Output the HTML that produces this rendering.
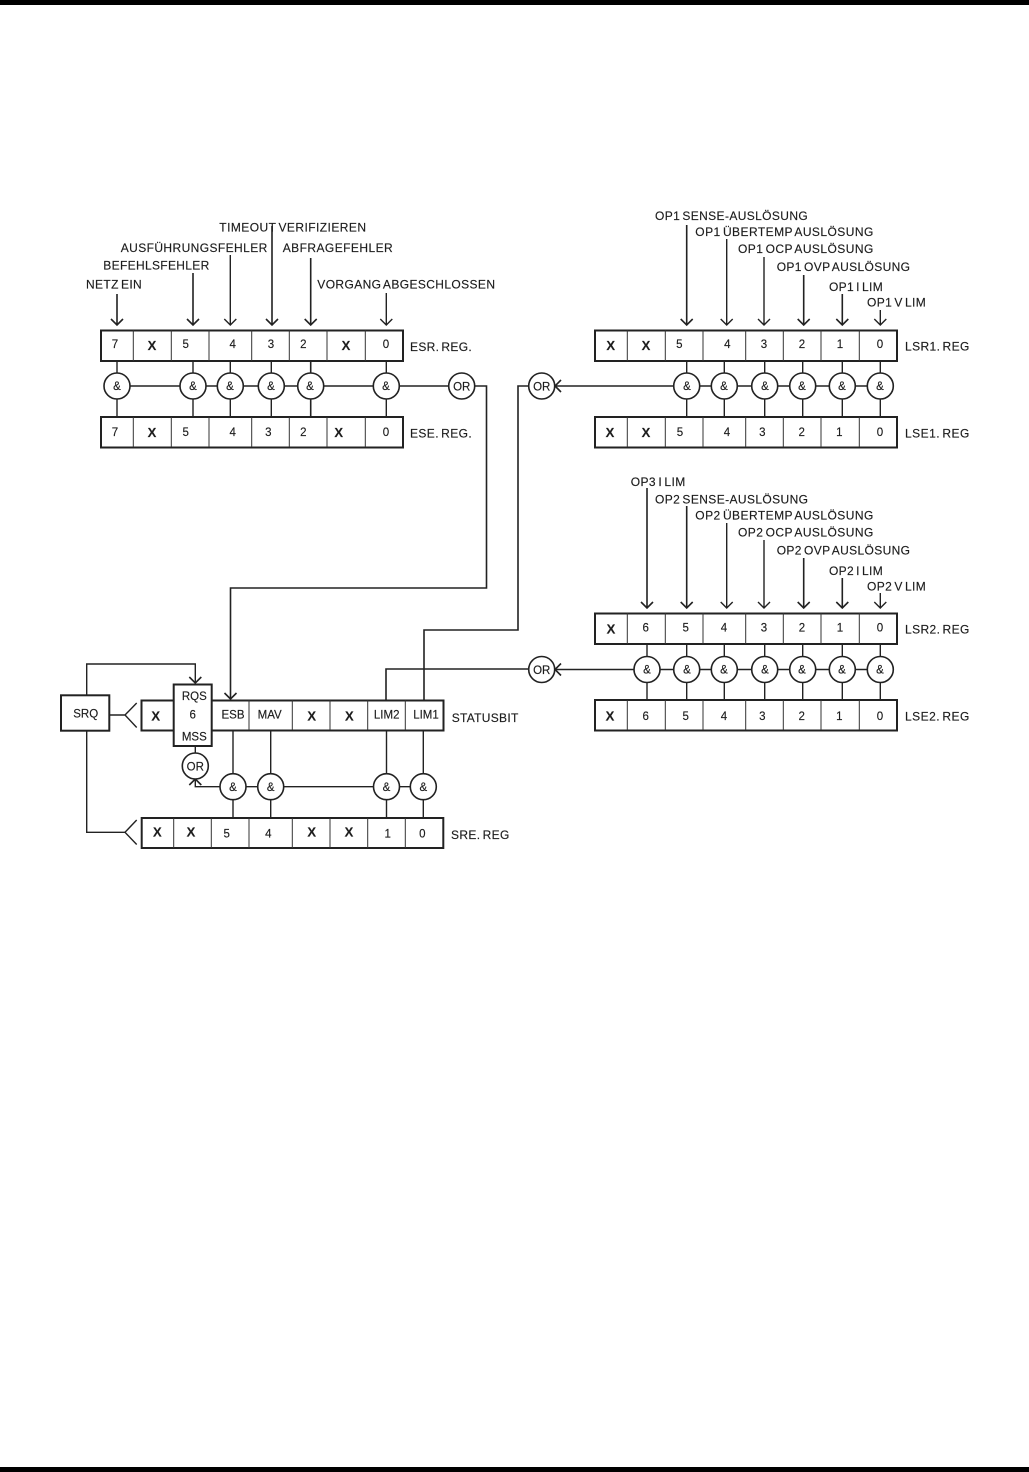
<!DOCTYPE html>
<html><head><meta charset="utf-8"><style>
html,body{margin:0;padding:0;background:#fff}
svg{display:block}
text{font-family:"Liberation Sans",sans-serif;font-size:12px;fill:#1c1c1c;stroke:#1c1c1c;stroke-width:.15;word-spacing:-1.5px}
.c{text-anchor:middle;font-size:11.5px}
.a{text-anchor:middle;font-size:11.5px}
.x{text-anchor:middle;font-size:13px;font-weight:bold}
.l{fill:none;stroke:#222;stroke-width:1.4}
.h{fill:none;stroke:#222;stroke-width:1.6}
.b{fill:#fff;stroke:#222;stroke-width:2}
.d{fill:none;stroke:#333;stroke-width:1}
.o{fill:#fff;stroke:#222;stroke-width:1.6}
</style></head><body>
<svg width="1029" height="1472" viewBox="0 0 1029 1472" xmlns="http://www.w3.org/2000/svg">
<rect x="0" y="0" width="1029" height="5" fill="#000"/>
<rect x="0" y="1467" width="1029" height="5" fill="#000"/>

<!-- connector lines -->
<path class="l" d="M117 361V417M193 361V417M230.3 361V417M271.3 361V417M386.3 361V417"/>
<path class="h" d="M310.7 361V417"/>
<path class="l" d="M117 386H461"/>
<path class="h" d="M474 386H486.5V588H230.5V699"/>
<path class="l" d="M686.7 361V417M724.3 361V417M764.7 361V417M802.7 361V417M842.3 361V417M880.3 361V417M555 386H880"/>
<path class="h" d="M528 386H518V630H424V700M528 669H386V700"/>
<path class="l" d="M647 644V700M686.7 644V700M724.3 644V700M764.7 644V700M802.7 644V700M842.3 644V700M880.3 644V700M555 669.5H880"/>
<path class="l" d="M233 730V818M270.7 730V818M386.5 730V818M423.3 730V818M423 786.7H195.3V779"/>
<path class="l" d="M195.3 746V754"/>
<path class="l" d="M86.7 695V664H195.3V683"/>
<path class="l" d="M86.7 730V832.3H125"/>
<path class="l" d="M109 715H125M136.7 703L125 715L136.7 727.5M136.7 820L125 832.3L136.7 844.5"/>

<!-- input arrows -->
<path class="h" d="M117 294V325M111 319L117 325L123 319"/>
<path class="h" d="M193 273V325M187 319L193 325L199 319"/>
<path class="l" d="M230.3 255V325M224.3 319L230.3 325L236.3 319"/>
<path class="h" d="M272 226V325M266 319L272 325L278 319"/>
<path class="h" d="M310.7 258V325M304.7 319L310.7 325L316.7 319"/>
<path class="l" d="M386.3 293V325M380.3 319L386.3 325L392.3 319"/>
<path class="h" d="M686.7 225V325M680.7 319L686.7 325L692.7 319"/>
<path class="l" d="M726.7 239V325M720.7 319L726.7 325L732.7 319"/>
<path class="l" d="M764 257V325M758 319L764 325L770 319"/>
<path class="h" d="M803.7 275V325M797.7 319L803.7 325L809.7 319"/>
<path class="h" d="M842.3 294V325M836.3 319L842.3 325L848.3 319"/>
<path class="l" d="M880.3 310V325M874.3 319L880.3 325L886.3 319"/>
<path class="h" d="M647 488V608M641 602L647 608L653 602"/>
<path class="h" d="M686.7 506V608M680.7 602L686.7 608L692.7 602"/>
<path class="l" d="M726.7 523V608M720.7 602L726.7 608L732.7 602"/>
<path class="l" d="M764 540V608M758 602L764 608L770 602"/>
<path class="h" d="M803.7 558V608M797.7 602L803.7 608L809.7 602"/>
<path class="h" d="M842.3 578V608M836.3 602L842.3 608L848.3 602"/>
<path class="l" d="M880.3 593V608M874.3 602L880.3 608L886.3 602"/>
<path class="h" d="M224.5 693L230.5 699L236.5 693"/>
<path class="h" d="M189.3 677L195.3 683L201.3 677"/>
<path class="h" d="M561 380L555 386L561 392"/>
<path class="h" d="M561 663.5L555 669.5L561 675.5"/>
<path class="h" d="M189.3 785L195.3 779L201.3 785"/>

<!-- registers -->
<rect class="b" x="101" y="330.5" width="302" height="30.5"/>
<path class="d" d="M133.3 330V361M171.3 330V361M209 330V361M251.7 330V361M289.3 330V361M327 330V361M365.3 330V361"/>
<rect class="b" x="101" y="417" width="302" height="30.5"/>
<path class="d" d="M133.3 417V447M171.3 417V447M209 417V447M251.7 417V447M289.3 417V447M327 417V447M365.3 417V447"/>
<rect class="b" x="595" y="330.5" width="302" height="30.5"/>
<path class="d" d="M627.3 330V361M665.3 330V361M703 330V361M745.7 330V361M783.3 330V361M821 330V361M859.3 330V361"/>
<rect class="b" x="595" y="417" width="302" height="30.5"/>
<path class="d" d="M627.3 417V447M665.3 417V447M703 417V447M745.7 417V447M783.3 417V447M821 417V447M859.3 417V447"/>
<rect class="b" x="595" y="613.5" width="302" height="30.5"/>
<path class="d" d="M627.3 613V644M665.3 613V644M703 613V644M745.7 613V644M783.3 613V644M821 613V644M859.3 613V644"/>
<rect class="b" x="595" y="700" width="302" height="30.5"/>
<path class="d" d="M627.3 700V730M665.3 700V730M703 700V730M745.7 700V730M783.3 700V730M821 700V730M859.3 700V730"/>
<rect class="b" x="141.5" y="700.5" width="302" height="30"/>
<path class="d" d="M249 700V730M292.3 700V730M330 700V730M367.7 700V730M405.3 700V730"/>
<rect class="b" x="173.7" y="684.5" width="38" height="61.5"/>
<rect class="b" x="141.7" y="818" width="301.6" height="30"/>
<path class="d" d="M173.7 818V848M211.3 818V848M249 818V848M292.3 818V848M330 818V848M367.7 818V848M405.3 818V848"/>
<rect class="b" x="61" y="695.3" width="48.3" height="35.4"/>

<!-- gates -->
<g>
<circle cx="117" cy="386" r="13" class="o"/><circle cx="193" cy="386" r="13" class="o"/><circle cx="230.3" cy="386" r="13" class="o"/><circle cx="271.3" cy="386" r="13" class="o"/><circle cx="310.7" cy="386" r="13" class="o"/><circle cx="386.3" cy="386" r="13" class="o"/><circle cx="461.7" cy="386" r="13" class="o"/>
<circle cx="686.7" cy="386" r="13" class="o"/><circle cx="724.3" cy="386" r="13" class="o"/><circle cx="764.7" cy="386" r="13" class="o"/><circle cx="802.7" cy="386" r="13" class="o"/><circle cx="842.3" cy="386" r="13" class="o"/><circle cx="880.3" cy="386" r="13" class="o"/><circle cx="541.7" cy="386" r="13" class="o"/>
<circle cx="647" cy="669.5" r="13" class="o"/><circle cx="686.7" cy="669.5" r="13" class="o"/><circle cx="724.3" cy="669.5" r="13" class="o"/><circle cx="764.7" cy="669.5" r="13" class="o"/><circle cx="802.7" cy="669.5" r="13" class="o"/><circle cx="842.3" cy="669.5" r="13" class="o"/><circle cx="880.3" cy="669.5" r="13" class="o"/><circle cx="541.7" cy="669.5" r="13" class="o"/>
<circle cx="195.3" cy="766" r="13" class="o"/><circle cx="233" cy="786.7" r="13" class="o"/><circle cx="270.7" cy="786.7" r="13" class="o"/><circle cx="386.5" cy="786.7" r="13" class="o"/><circle cx="423.3" cy="786.7" r="13" class="o"/>
</g>

<!-- gate labels -->
<text class="a" x="117" y="390">&amp;</text><text class="a" x="193" y="390">&amp;</text><text class="a" x="230" y="390">&amp;</text><text class="a" x="271" y="390">&amp;</text><text class="a" x="310" y="390">&amp;</text><text class="a" x="386" y="390">&amp;</text>
<text class="c" x="461.7" y="390.5">OR</text>
<text class="a" x="687" y="390">&amp;</text><text class="a" x="724" y="390">&amp;</text><text class="a" x="765" y="390">&amp;</text><text class="a" x="802" y="390">&amp;</text><text class="a" x="842" y="390">&amp;</text><text class="a" x="880" y="390">&amp;</text>
<text class="c" x="541.7" y="390.5">OR</text>
<text class="a" x="647" y="673.5">&amp;</text><text class="a" x="687" y="673.5">&amp;</text><text class="a" x="724" y="673.5">&amp;</text><text class="a" x="765" y="673.5">&amp;</text><text class="a" x="802" y="673.5">&amp;</text><text class="a" x="842" y="673.5">&amp;</text><text class="a" x="880" y="673.5">&amp;</text>
<text class="c" x="541.7" y="674">OR</text>
<text class="c" x="195.3" y="770.5">OR</text>
<text class="a" x="233" y="791">&amp;</text><text class="a" x="270.7" y="791">&amp;</text><text class="a" x="386.5" y="791">&amp;</text><text class="a" x="423.3" y="791">&amp;</text>

<!-- register contents -->
<text class="c" x="115" y="348">7</text><text class="x" x="152" y="350">X</text><text class="c" x="185.7" y="348">5</text><text class="c" x="232.7" y="348">4</text><text class="c" x="271" y="348">3</text><text class="c" x="303.3" y="348">2</text><text class="x" x="346" y="350">X</text><text class="c" x="386" y="348">0</text>
<text class="c" x="115" y="436">7</text><text class="x" x="152" y="437">X</text><text class="c" x="185.7" y="436">5</text><text class="c" x="232.7" y="436">4</text><text class="c" x="268.3" y="436">3</text><text class="c" x="303.3" y="436">2</text><text class="x" x="338.7" y="437">X</text><text class="c" x="386" y="436">0</text>
<text class="x" x="610.7" y="350">X</text><text class="x" x="646" y="350">X</text><text class="c" x="679.3" y="348">5</text><text class="c" x="727.3" y="348">4</text><text class="c" x="764" y="348">3</text><text class="c" x="802" y="348">2</text><text class="c" x="840" y="348">1</text><text class="c" x="880" y="348">0</text>
<text class="x" x="610" y="437">X</text><text class="x" x="646" y="437">X</text><text class="c" x="680" y="436">5</text><text class="c" x="727" y="436">4</text><text class="c" x="762.3" y="436">3</text><text class="c" x="801.7" y="436">2</text><text class="c" x="839.3" y="436">1</text><text class="c" x="880" y="436">0</text>
<text class="x" x="611" y="633.5">X</text><text class="c" x="645.7" y="631.7">6</text><text class="c" x="685.7" y="631.7">5</text><text class="c" x="724" y="631.7">4</text><text class="c" x="764" y="631.7">3</text><text class="c" x="802" y="631.7">2</text><text class="c" x="840" y="631.7">1</text><text class="c" x="880" y="631.7">0</text>
<text class="x" x="610" y="720.5">X</text><text class="c" x="645.7" y="720">6</text><text class="c" x="685.7" y="720">5</text><text class="c" x="724" y="720">4</text><text class="c" x="762.3" y="720">3</text><text class="c" x="801.7" y="720">2</text><text class="c" x="839.3" y="720">1</text><text class="c" x="880" y="720">0</text>
<text class="x" x="155.7" y="720.5">X</text><text class="c" x="194.3" y="700">RQS</text><text class="c" x="192.7" y="718.7">6</text><text class="c" x="194.3" y="740.7">MSS</text><text class="c" x="233" y="718.7">ESB</text><text class="c" x="269.7" y="718.7">MAV</text><text class="x" x="311.7" y="720.5">X</text><text class="x" x="349.3" y="720.5">X</text><text class="c" x="386.7" y="718.7">LIM2</text><text class="c" x="426" y="718.7">LIM1</text>
<text class="c" x="85.7" y="717.7">SRQ</text>
<text class="x" x="157.3" y="836.5">X</text><text class="x" x="191" y="836.5">X</text><text class="c" x="226.7" y="837.3">5</text><text class="c" x="268.3" y="837.3">4</text><text class="x" x="311.7" y="836.5">X</text><text class="x" x="349" y="836.5">X</text><text class="c" x="387.7" y="837.3">1</text><text class="c" x="422.3" y="837.3">0</text>

<!-- register names -->
<text x="410" y="351" textLength="61.7" lengthAdjust="spacing">ESR. REG.</text>
<text x="410" y="437.7" textLength="61.7" lengthAdjust="spacing">ESE. REG.</text>
<text x="905" y="350.7" textLength="64.3" lengthAdjust="spacing">LSR1. REG</text>
<text x="905" y="437.3" textLength="64.3" lengthAdjust="spacing">LSE1. REG</text>
<text x="905" y="633.3" textLength="64.3" lengthAdjust="spacing">LSR2. REG</text>
<text x="905" y="720.7" textLength="64.3" lengthAdjust="spacing">LSE2. REG</text>
<text x="451.7" y="722" textLength="66.6" lengthAdjust="spacing">STATUSBIT</text>
<text x="451" y="839" textLength="58.3" lengthAdjust="spacing">SRE. REG</text>

<!-- signal labels -->
<text x="219.3" y="231.5" textLength="146.7" lengthAdjust="spacing">TIMEOUT VERIFIZIEREN</text>
<text x="120.7" y="252" textLength="146.6" lengthAdjust="spacing">AUSFÜHRUNGSFEHLER</text>
<text x="282.7" y="252" textLength="110" lengthAdjust="spacing">ABFRAGEFEHLER</text>
<text x="103.3" y="269.5" textLength="106" lengthAdjust="spacing">BEFEHLSFEHLER</text>
<text x="86" y="288.5" textLength="55.7" lengthAdjust="spacing">NETZ EIN</text>
<text x="317.3" y="288.5" textLength="177.7" lengthAdjust="spacing">VORGANG ABGESCHLOSSEN</text>
<text x="655" y="220.2" textLength="152.7" lengthAdjust="spacing">OP1 SENSE-AUSLÖSUNG</text>
<text x="695.3" y="236" textLength="178" lengthAdjust="spacing">OP1 ÜBERTEMP AUSLÖSUNG</text>
<text x="738" y="253" textLength="135.3" lengthAdjust="spacing">OP1 OCP AUSLÖSUNG</text>
<text x="776.7" y="271" textLength="133.3" lengthAdjust="spacing">OP1 OVP AUSLÖSUNG</text>
<text x="829" y="291" textLength="53.7" lengthAdjust="spacing">OP1 I LIM</text>
<text x="867" y="306.7" textLength="58.7" lengthAdjust="spacing">OP1 V LIM</text>
<text x="630.7" y="486" textLength="54.6" lengthAdjust="spacing">OP3 I LIM</text>
<text x="655" y="503.3" textLength="153" lengthAdjust="spacing">OP2 SENSE-AUSLÖSUNG</text>
<text x="695.3" y="519.3" textLength="178" lengthAdjust="spacing">OP2 ÜBERTEMP AUSLÖSUNG</text>
<text x="738" y="536.7" textLength="135.3" lengthAdjust="spacing">OP2 OCP AUSLÖSUNG</text>
<text x="776.7" y="554.7" textLength="133.3" lengthAdjust="spacing">OP2 OVP AUSLÖSUNG</text>
<text x="829" y="575" textLength="53.7" lengthAdjust="spacing">OP2 I LIM</text>
<text x="867" y="590.7" textLength="58.7" lengthAdjust="spacing">OP2 V LIM</text>
</svg>
</body></html>
